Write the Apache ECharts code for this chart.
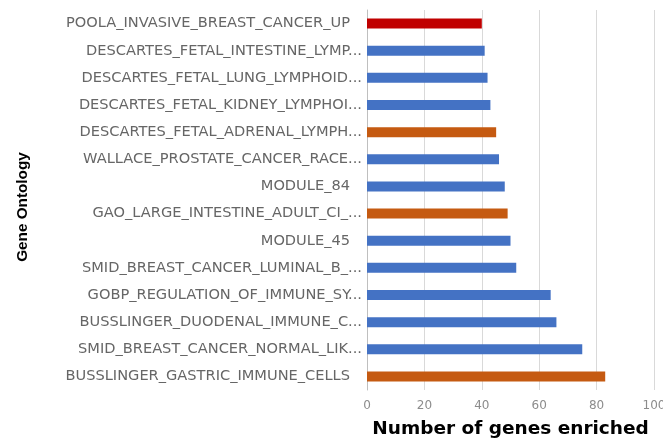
<!DOCTYPE html>
<html><head><meta charset="utf-8">
<script src="https://cdn.jsdelivr.net/npm/echarts@6/dist/echarts.min.js"></script>
<style>html,body{margin:0;padding:0;background:#fff}#c{width:663px;height:438px}</style>
</head><body><div id="c"></div>
<script>
const categories = [
  "POOLA_INVASIVE_BREAST_CANCER_UP",
  "DESCARTES_FETAL_INTESTINE_LYMP...",
  "DESCARTES_FETAL_LUNG_LYMPHOID...",
  "DESCARTES_FETAL_KIDNEY_LYMPHOI...",
  "DESCARTES_FETAL_ADRENAL_LYMPH...",
  "WALLACE_PROSTATE_CANCER_RACE...",
  "MODULE_84",
  "GAO_LARGE_INTESTINE_ADULT_CI_...",
  "MODULE_45",
  "SMID_BREAST_CANCER_LUMINAL_B_...",
  "GOBP_REGULATION_OF_IMMUNE_SY...",
  "BUSSLINGER_DUODENAL_IMMUNE_C...",
  "SMID_BREAST_CANCER_NORMAL_LIK...",
  "BUSSLINGER_GASTRIC_IMMUNE_CELLS"
];
const values = [40, 41, 42, 43, 45, 46, 48, 49, 50, 52, 64, 66, 75, 83];
const groups = ["red","blue","blue","blue","orange","blue","blue","orange","blue","blue","blue","blue","blue","orange"];
const xTicks = [0, 20, 40, 60, 80, 100];
const palette = {blue: "#4472C4", orange: "#C55A11", red: "#C00000"};

const chart = echarts.init(document.getElementById('c'), null, {renderer: 'canvas'});
chart.setOption({
  animation: false,
  grid: {left: 367, right: 9, top: 10, bottom: 48, containLabel: false, outerBoundsMode: 'none'},
  xAxis: {
    type: 'value', min: xTicks[0], max: xTicks[xTicks.length-1], interval: xTicks[1]-xTicks[0],
    name: 'Number of genes enriched', nameLocation: 'middle', nameGap: 30,
    nameTextStyle: {fontFamily: 'DejaVu Sans', fontWeight: 'bold', fontSize: 18.5, color: '#000'},
    axisLine: {show: false}, axisTick: {show: false},
    axisLabel: {color: '#8c8c8c', fontSize: 12, fontFamily: 'DejaVu Sans', margin: 10},
    splitLine: {show: true, lineStyle: {color: '#d9d9d9', width: 1}}
  },
  yAxis: {
    type: 'category', data: categories, inverse: true,
    name: 'Gene Ontology', nameLocation: 'middle', nameGap: 337,
    nameTextStyle: {fontFamily: 'Liberation Sans', fontWeight: 'bold', fontSize: 15.3, color: '#000', padding: [0, 14, 0, 0]},
    axisLine: {show: true, lineStyle: {color: '#bfbfbf'}},
    axisTick: {show: false},
    axisLabel: {
      color: '#666', fontSize: 14.6, fontFamily: 'DejaVu Sans', margin: 5,
      formatter: function (v) { return v.endsWith('...') ? '{t|' + v + '}' : '{n|' + v + '}'; },
      rich: {
        t: {color: '#666', fontSize: 14.6, fontFamily: 'DejaVu Sans'},
        n: {color: '#666', fontSize: 14.6, fontFamily: 'DejaVu Sans', padding: [0, 12, 0, 0]}
      }
    }
  },
  series: [{
    type: 'bar', barWidth: 10,
    data: values.map((v, i) => ({value: v, itemStyle: {color: palette[groups[i]]}}))
  }]
});
</script></body></html>
